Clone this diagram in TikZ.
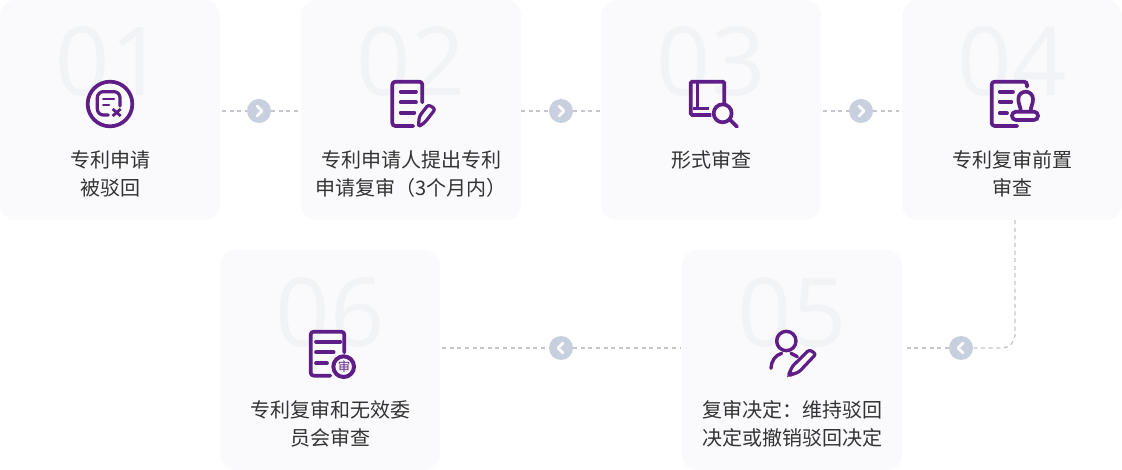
\documentclass[tikz,border=0pt]{standalone}
\usepackage{fontspec}
\setmainfont{Noto Sans CJK SC}
\newfontfamily\numfont{Open Sans}
\definecolor{cardbg}{HTML}{FAFAFC}
\definecolor{numc}{HTML}{F1F3F7}
\definecolor{ink}{HTML}{333333}
\definecolor{iconc}{HTML}{5E1D87}
\definecolor{dotc}{HTML}{C8D0E0}
\definecolor{dashc}{HTML}{C4C6CC}
\tikzset{
  card/.style={draw=none,fill=cardbg,rounded corners=16pt,minimum width=220pt,minimum height=220pt,inner sep=0pt},
  numlabel/.style={text=numc,anchor=base,inner sep=0pt,font=\numfont\fontsize{95}{95}\selectfont},
  cardtext/.style={text=ink,align=center,inner sep=0pt,font=\fontsize{20}{28}\selectfont},
  dot/.style={circle,fill=dotc,draw=none,minimum size=24pt,inner sep=0pt},
  conn/.style={draw=dashc,line width=1.3pt,dash pattern=on 4pt off 3.6pt},
  ic/.style={draw=iconc,line width=3.7pt,line cap=round,line join=round},
  zoomed/.style={x=0.3333pt,y=-0.3333pt},
  chev/.style={draw=white,line width=2.8pt,line cap=round,line join=round},
  pics/chevR/.style={code={\draw[chev] (-2,-5)--(3,0)--(-2,5);}},
  pics/chevL/.style={code={\draw[chev] (2,-5)--(-3,0)--(2,5);}},
}
\begin{document}
\begin{tikzpicture}[x=1pt,y=-1pt]
\useasboundingbox (0,0) rectangle (1122,470);
\fill[white] (0,0) rectangle (1122,470);
% cards
\node[card] (c1) at (110,110) {};
\node[card] (c2) at (411,110) {};
\node[card] (c3) at (711,110) {};
\node[card] (c4) at (1012,110) {};
\node[card] (c5) at (792,360) {};
\node[card] (c6) at (330,360) {};
% big numbers
\node[numlabel] (n1) at (110,96) {01};
\node[numlabel] (n2) at (411,96) {02};
\node[numlabel] (n3) at (711,96) {03};
\node[numlabel] (n4) at (1012,96) {04};
\node[numlabel] (n5) at (792,346) {05};
\node[numlabel] (n6) at (330,346) {06};
% labels
\node[cardtext] (t1) at (110,174) {专利申请\\被驳回};
\node[cardtext] (t2) at (411,174) {专利申请人提出专利\\申请复审（3个月内）};
\node[cardtext] (t3) at (711,160) {形式审查};
\node[cardtext] (t4) at (1012,174) {专利复审前置\\审查};
\node[cardtext] (t5) at (792,424) {复审决定：维持驳回\\决定或撤销驳回决定};
\node[cardtext] (t6) at (330,424) {专利复审和无效委\\员会审查};
% connector dots
\node[dot] (a1) at (259,111) {};
\node[dot] (a2) at (561,111) {};
\node[dot] (a3) at (861,111) {};
\node[dot] (a4) at (961,348) {};
\node[dot] (a5) at (561,348) {};
% connectors
\draw[conn] ([xshift=2pt]a1 -| c1.east) -- (a1);
\draw[conn] (a1) -- (a1 -| c2.west);
\draw[conn] (a2 -| c2.east) -- (a2);
\draw[conn] (a2) -- (a2 -| c3.west);
\draw[conn] ([xshift=2pt]a3 -| c3.east) -- (a3);
\draw[conn] (a3) -- ([xshift=-3pt]a3 -| c4.west);
\draw[conn,rounded corners=13pt] ([xshift=3pt]c4.south) |- (a4);
\draw[conn] (a4) -- ([xshift=3pt]a4 -| c5.east);
\draw[conn] ([xshift=2pt]a5 -| c6.east) -- (a5);
\draw[conn] (a5) -- ([xshift=-2pt]a5 -| c5.west);
\pic at (a1.center) {chevR};
\pic at (a2.center) {chevR};
\pic at (a3.center) {chevR};
\pic at (a4.center) {chevL};
\pic at (a5.center) {chevL};
% icon 1
\begin{scope}[shift={(80,75)},zoomed]
  \draw[ic] (90,87) circle[radius=67];
  \draw[ic,line width=3.2pt,rounded corners=6pt] (85,120) -- (52,120) -- (52,50) -- (120,50) -- (120,93);
  \draw[ic,line width=2.8pt] (70,72) -- (102,72);
  \draw[ic,line width=2.8pt] (70,90) -- (87,90);
  \draw[ic,line width=2.8pt,line cap=butt] (98,102) -- (122,123);
  \draw[ic,line width=2.8pt,line cap=butt] (122,102) -- (98,123);
\end{scope}
% icon 2
\begin{scope}[shift={(380,75)},zoomed]
  \draw[ic,rounded corners=3pt] (100,153) -- (37,153) -- (37,20) -- (127,20) -- (127,82);
  \draw[ic] (62,50) -- (108,50);
  \draw[ic] (62,82) -- (108,82);
  \draw[ic] (62,113) -- (103,113);
  \draw[ic,line width=3.2pt,rounded corners=2.5pt] (115,156) -- (118,124) -- (145,89) -- (166,102) -- (135,142) -- cycle;
\end{scope}
% icon 3
\begin{scope}[shift={(682,75)},zoomed]
  \draw[ic,line join=miter,line cap=butt,rounded corners=1.5pt] (127,85) -- (127,20) -- (26,20) -- (26,120) -- (88,120);
  \draw[ic,line width=3pt,line cap=butt] (46,20) -- (46,100) -- (34,100);
  \draw[ic,line width=3pt,line cap=butt] (46,100) -- (80,100);
  \draw[ic] (122,115) circle[radius=27];
  \draw[ic] (144,134) -- (165,155);
\end{scope}
% icon 4
\begin{scope}[shift={(983,75)},zoomed]
  \draw[ic,rounded corners=3pt] (103,153) -- (26,153) -- (26,20) -- (132,20) -- (132,35);
  \draw[ic] (50,50) -- (90,50);
  \draw[ic] (50,80) -- (85,80);
  \draw[ic] (50,115) -- (72,115);
  \draw[ic,rounded corners=4pt] (87,110) rectangle (165,135);
  \draw[ic] (113,108) .. controls (113,95) and (106,88) .. (106,72) arc[start angle=180,end angle=360,radius=22] .. controls (150,88) and (143,95) .. (143,108);
\end{scope}
% icon 5
\begin{scope}[shift={(763,325)},zoomed]
  \draw[ic,line width=3.4pt] (70,48) circle[radius=29];
  \draw[ic,line width=3.4pt] (24,130) .. controls (24,108) and (38,90) .. (56,85);
  \draw[ic,line width=3.4pt] (84,85) -- (103,95);
  \draw[ic,line width=3.2pt,rounded corners=2.5pt] (75,153) -- (88,124) -- (139,74) -- (159,87) -- (108,141) -- cycle;
  \fill[iconc] (72,157) -- (80,136) -- (94,146) -- cycle;
\end{scope}
% icon 6
\begin{scope}[shift={(302,325)},zoomed]
  \draw[ic,rounded corners=3pt] (85,152) -- (26,152) -- (26,20) -- (127,20) -- (127,82);
  \draw[ic] (42,50) -- (115,50);
  \draw[ic] (42,82) -- (95,82);
  \draw[ic] (42,115) -- (75,115);
  \draw[ic,line width=4pt] (125,125) circle[radius=31];
\end{scope}
\node[text=iconc,inner sep=0pt,font=\fontsize{12.5}{12.5}\selectfont] (s6) at (344,366.5) {审};
\end{tikzpicture}
\end{document}
